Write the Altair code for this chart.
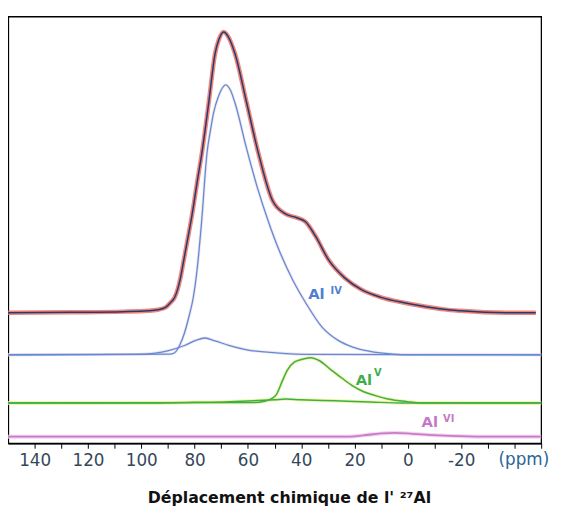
import altair as alt
import pandas as pd

# ---- data (x: chemical shift in ppm, y: intensity above each trace's baseline)
series_names = ["spectre", "AlIV_a", "AlIV_b", "AlV_a", "AlV_b", "AlVI"]
baseline_offsets = [30.6, 20.75, 20.75, 9.45, 9.45, 1.54]

spectre_ppm = [150, 126.5, 106.6, 97.4, 93.8, 90.9, 89.0, 87.5, 86.4, 85.3, 84.2, 82.7, 80.9, 79.0, 77.2,
               74.7, 72.3, 70.9, 69.1, 67.3, 64.9, 60.5, 56.2, 50.7, 45.75, 41.9, 38.4, 34.7, 29.7,
               23.6, 17.4, 10.1, 1.4, -5.7, -13.4, -19.7, -36.8, -48]
spectre_int = [0, 0.1, 0.25, 0.45, 0.7, 1.25, 2.4, 3.56, 5.4, 8.17, 11.86, 16.94, 23.17, 30.79, 37.71,
               49.25, 60.79, 64.02, 65.8, 64.6, 60.8, 49.25, 37.7, 26.17, 23.1, 22.3, 21.3, 18.0, 12.33,
               8.1, 5.4, 3.6, 2.33, 1.5, 0.79, 0.45, 0, 0]

aliv_a_ppm = [150, 89.4, 87.5, 85.7, 83.8, 82.0, 80.5, 79.0, 77.5, 75.3, 74.0, 72.85, 71.0, 68.3, 66.5,
              64.9, 60.5, 56.4, 52.4, 48.3, 43.2, 38.4, 32.1, 26.0, 20.7, 14.1, 7.5, 0.9, -50]
aliv_a_int = [0, 0.14, 0.48, 2.1, 5.1, 9.25, 13.41, 20.33, 30.25, 47.56, 52.8, 56.79, 60.65, 63.26, 61.9,
              59.1, 48.3, 39.05, 31.36, 24.48, 17.53, 12.25, 6.4, 3.3, 1.8, 0.77, 0.23, 0, 0]

aliv_b_ppm = [150, 101.2, 94.7, 90.1, 83.8, 79.5, 76.1, 72.3, 66.9, 60.4, 49.4, 36.6, -50]
aliv_b_int = [0, 0.08, 0.39, 0.93, 2.16, 3.39, 3.92, 3.23, 2.16, 1.16, 0.46, 0.08, 0]

alv_a_ppm = [150, 57.7, 53.8, 51.1, 49.4, 47.2, 45.2, 42.5, 39.2, 36.4, 33.3, 29.3, 24.8, 20.7, 16.8,
             12.5, 7.5, 0.2, -5.7, -50]
alv_a_int = [0, 0.08, 0.39, 1.0, 1.9, 5.0, 7.69, 9.61, 10.3, 10.61, 9.95, 8.0, 5.85, 4.0, 2.69,
             1.77, 0.93, 0.31, 0, 0]

alv_b_ppm = [150, 100.0, 80.2, 67.0, 57.7, 49.8, 45.8, 40.5, 27.3, 14.1, 2.2, -50]
alv_b_int = [0, 0, 0.15, 0.31, 0.54, 0.77, 0.92, 0.77, 0.5, 0.23, 0, 0]

alvi_ppm = [150, 23.4, 16.8, 10.1, 4.9, -1.8, -9.7, -18.9, -29.5, -50]
alvi_int = [0, 0, 0.31, 0.77, 0.92, 0.69, 0.38, 0.15, 0, 0]

x_tick_values = [140, 130, 120, 110, 100, 90, 80, 70, 60, 50, 40, 30, 20, 10, 0, -10, -20, -30, -40, -50]

label_text = ["Al", "IV", "Al", "V", "Al", "VI"]
label_ppm = [34.3, 26.9, 16.5, 11.3, -8.2, -15.3]
label_val = [33.7, 34.9, 13.6, 15.8, 3.7, 5.0]
label_size = [15, 10, 15, 10, 15, 10]
label_color = ["#4f7fcf", "#4f7fcf", "#3fae49", "#3fae49", "#c678c8", "#c678c8"]

unit_text = ["(ppm)"]
unit_ppm = [-43.5]
unit_val = [-5.0]

# ---- build tables
ppm_lists = [spectre_ppm, aliv_a_ppm, aliv_b_ppm, alv_a_ppm, alv_b_ppm, alvi_ppm]
int_lists = [spectre_int, aliv_a_int, aliv_b_int, alv_a_int, alv_b_int, alvi_int]
rows = []
for name, off, xs, ys in zip(series_names, baseline_offsets, ppm_lists, int_lists):
    for xv, yv in zip(xs, ys):
        rows.append({"series": name, "ppm": xv, "signal": yv + off})
df = pd.DataFrame(rows)

labels_df = pd.DataFrame({"text": label_text, "ppm": label_ppm, "signal": label_val,
                          "size": label_size, "color": label_color})
unit_df = pd.DataFrame({"text": unit_text, "ppm": unit_ppm, "signal": unit_val})

FONT = "DejaVu Sans"

x_enc = alt.X(
    "ppm:Q",
    scale=alt.Scale(domain=[150, -50], nice=False, zero=False),
    axis=alt.Axis(
        values=x_tick_values,
        labelExpr="datum.value % 20 == 0 && datum.value > -40 && datum.value < 150 ? '' + datum.value : ''",
        labelOverlap=False,
        labelFlush=False,
        labelFont=FONT,
        labelFontSize=17,
        labelColor="#34475a",
        labelPadding=5,
        tickSize=5,
        tickColor="black",
        domainColor="black",
        domainWidth=1.3,
        title="Déplacement chimique de l' ²⁷Al",
        titleFont=FONT,
        titleFontSize=16,
        titleFontWeight="bold",
        titleColor="#111111",
        titleX=285,
        titleY=60,
        titleBaseline="alphabetic",
        titleAnchor="middle",
        grid=False,
    ),
)
y_enc = alt.Y(
    "signal:Q",
    scale=alt.Scale(domain=[0, 100], nice=False, zero=False),
    axis=alt.Axis(labels=False, ticks=False, title=None, grid=False,
                  domainColor="black", domainWidth=1.3),
)
order_enc = alt.Order("ppm:Q", sort="descending")

base = alt.Chart(df)


def lines(names, color, width, opacity=1.0):
    return (
        base.transform_filter(alt.FieldOneOfPredicate(field="series", oneOf=names))
        .mark_line(interpolate="monotone", color=color, strokeWidth=width, opacity=opacity)
        .encode(x=x_enc, y=y_enc, detail="series:N", order=order_enc)
    )


layers = [
    lines(["AlVI"], "#f3c9ea", 4.0, 0.8),
    lines(["AlVI"], "#c87bcb", 1.8),
    lines(["AlV_a", "AlV_b"], "#eef08a", 3.5, 0.7),
    lines(["AlV_a", "AlV_b"], "#3caf4a", 1.5),
    lines(["AlIV_a", "AlIV_b"], "#f1d6e6", 3.0, 0.7),
    lines(["AlIV_a", "AlIV_b"], "#5b8ed6", 1.3),
    lines(["spectre"], "#f0705f", 4.5, 0.85),
    lines(["spectre"], "#213c78", 1.5),
]

label_layer = alt.Chart(labels_df).mark_text(
    font=FONT, align="center", baseline="alphabetic", fontWeight="bold"
).encode(
    x=x_enc,
    y=y_enc,
    text="text:N",
    size=alt.Size("size:Q", scale=None, legend=None),
    color=alt.Color("color:N", scale=None, legend=None),
)

unit_layer = alt.Chart(unit_df).mark_text(
    font=FONT, align="center", baseline="alphabetic", fontSize=17, color="#2a6496"
).encode(x=x_enc, y=y_enc, text="text:N")

chart = (
    alt.layer(*layers, label_layer, unit_layer)
    .properties(
        width=541,
        height=433,
        padding={"left": 0, "top": 5, "right": 12, "bottom": 63},
        autosize=alt.AutoSizeParams(type="none"),
        background="white",
    )
    .configure_view(stroke="black", strokeWidth=1.3)
)

chart.save("out.html", embed_options={"renderer": "svg", "actions": False})
